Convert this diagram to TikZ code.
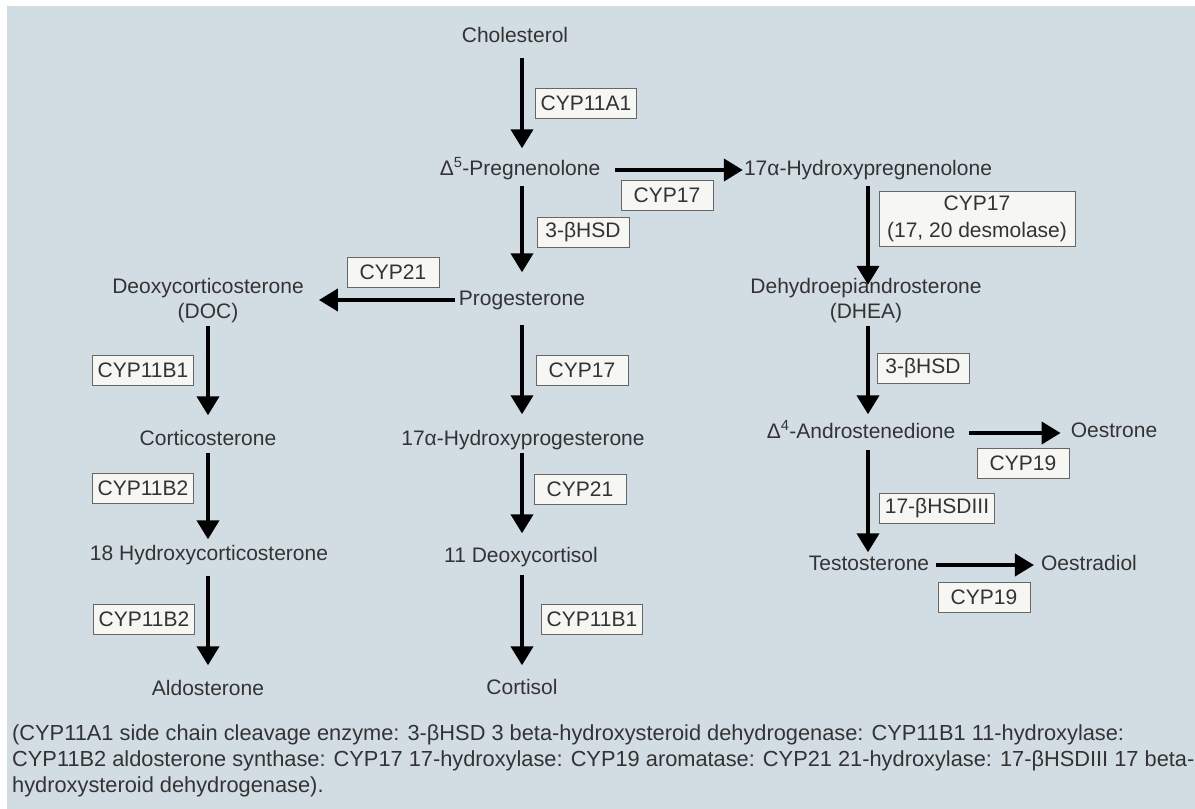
\documentclass[tikz,border=0pt]{standalone}
\usepackage{fontspec}
\setmainfont{Liberation Sans}
\usetikzlibrary{arrows.meta}
\definecolor{panel}{HTML}{D2DDE3}
\definecolor{ink}{HTML}{333333}
\definecolor{boxfill}{HTML}{F6F6F2}
\definecolor{boxline}{HTML}{666666}
\begin{document}
\begin{tikzpicture}[
  x=1pt, y=-1pt,
  font=\fontsize{21}{25}\selectfont,
  hormone/.style={text=ink, align=center, inner sep=0pt, text height=15pt, text depth=4pt},
  enzyme/.style={text=ink, draw=boxline, fill=boxfill, line width=1pt, align=center,
    minimum width=92pt, minimum height=30pt, inner xsep=5pt, inner ysep=2pt},
  flow/.style={line width=4pt, -{Triangle[length=19pt,width=22pt]}, shorten <=6pt, shorten >=12pt},
  legend/.style={text=ink, anchor=north west, align=left, inner sep=0pt,
    font=\fontsize{21.8}{26}\selectfont},
]
% panel
\path[use as bounding box] (0,0) rectangle (1195,809);
\fill[panel] (7,6) rectangle (1195,809);

% columns of the arrows
\coordinate (cL) at (208,0);
\coordinate (cM) at (522,0);
\coordinate (cR) at (868,0);

% steroids
\node[hormone] (chol) at (515,37) {Cholesterol};
\node[hormone] (preg) at (520,170) {Δ\textsuperscript{5}-Pregnenolone};
\node[hormone] (ohpreg) at (868,170) {17α-Hydroxypregnenolone};
\node[hormone] (prog) at (522,300) {Progesterone};
\node[hormone] (doc) at (208,312.5) {Deoxycorticosterone\\(DOC)};
\node[hormone] (cort) at (208,440) {Corticosterone};
\node[hormone] (ohcort) at (209,555) {18 Hydroxycorticosterone};
\node[hormone] (aldo) at (208,690) {Aldosterone};
\node[hormone] (ohprog) at (523,440) {17α-Hydroxyprogesterone};
\node[hormone] (deoxy) at (521,557) {11 Deoxycortisol};
\node[hormone] (cortisol) at (522,689) {Cortisol};
\node[hormone] (dhea) at (866,312.5) {Dehydroepiandrosterone\\(DHEA)};
\node[hormone] (andro) at (861,433) {Δ\textsuperscript{4}-Androstenedione};
\node[hormone] (oestrone) at (1114,432) {Oestrone};
\node[hormone] (testo) at (869,565) {Testosterone};
\node[hormone] (oestradiol) at (1089,565) {Oestradiol};

% enzymes
\node[enzyme] (scc) at (586,103) {CYP11A1};
\node[enzyme] (hyd17a) at (667,195) {CYP17};
\node[enzyme] (hsd3a) at (583,232) {3-βHSD};
\node[enzyme] (hyd21a) at (393,272) {CYP21};
\node[enzyme] (hyd11a) at (143,370) {CYP11B1};
\node[enzyme] (syn1) at (143,488) {CYP11B2};
\node[enzyme] (syn2) at (144,619) {CYP11B2};
\node[enzyme] (hyd17b) at (582,370) {CYP17};
\node[enzyme] (hyd21b) at (580,489) {CYP21};
\node[enzyme] (hyd11b) at (592,619) {CYP11B1};
\node[enzyme, minimum width=196pt, minimum height=55pt, font=\fontsize{21}{27}\selectfont] (desmo) at (977,219) {CYP17\\(17, 20 desmolase)};
\node[enzyme] (hsd3b) at (923,368) {3-βHSD};
\node[enzyme] (arom1) at (1023,463) {CYP19};
\node[enzyme] (hsd17) at (937,508) {17-βHSDIII};
\node[enzyme] (arom2) at (984,597) {CYP19};

% reactions
\draw[flow, shorten <=11pt] (chol.south -| cM) -- (preg.north -| cM);
\draw[flow, shorten >=18pt] (preg.south -| cM) -- (prog.north -| cM);
\draw[flow, shorten <=15pt, shorten >=1pt] (preg.east) -- (ohpreg.west);
\draw[flow, shorten <=4pt, shorten >=15pt] (prog.west) -- (prog.west -| doc.east);
\draw[flow, shorten <=15pt, shorten >=16pt] (prog.south -| cM) -- (ohprog.north -| cM);
\draw[flow, shorten <=3pt, shorten >=14pt] (ohprog.south -| cM) -- (deoxy.north -| cM);
\draw[flow, shorten <=8pt, shorten >=14pt] (deoxy.south -| cM) -- (cortisol.north -| cM);
\draw[flow, shorten <=4pt, shorten >=15pt] (doc.south -| cL) -- (cort.north -| cL);
\draw[flow, shorten <=3pt, shorten >=6pt] (cort.south -| cL) -- (ohcort.north -| cL);
\draw[flow, shorten <=11pt, shorten >=15pt] (ohcort.south -| cL) -- (aldo.north -| cL);
\draw[flow, shorten >=18pt] (ohpreg.south -| cR) -- (dhea.north -| cR);
\draw[flow, shorten <=4pt, shorten >=9pt] (dhea.south -| cR) -- (andro.north -| cR);
\draw[flow, shorten <=14pt, shorten >=10pt] (andro.east) -- (andro.east -| oestrone.west);
\draw[flow, shorten <=7pt, shorten >=3pt] (andro.south -| cR) -- (testo.north -| cR);
\draw[flow, shorten <=7pt, shorten >=7pt] (testo.east) -- (oestradiol.west);

% key
\node[legend] (key) at (12,724) {(CYP11A1 side chain cleavage enzyme: 3-βHSD 3 beta-hydroxysteroid dehydrogenase: CYP11B1 11-hydroxylase:\\
CYP11B2 aldosterone synthase: CYP17 17-hydroxylase: CYP19 aromatase: CYP21 21-hydroxylase: 17-βHSDIII 17 beta-\\
hydroxysteroid dehydrogenase).};
\end{tikzpicture}
\end{document}
